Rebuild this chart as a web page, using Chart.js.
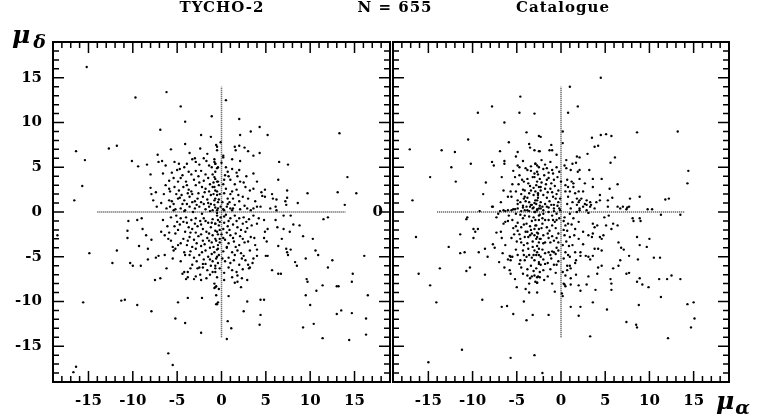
<!DOCTYPE html>
<html>
<head>
<meta charset="utf-8">
<script src="https://cdn.jsdelivr.net/npm/chart.js@4.4.1/dist/chart.umd.min.js"></script>
<style>
  body { margin: 0; background: #fff; width: 758px; height: 418px; position: relative; overflow: hidden; font-family: "DejaVu Serif", serif; }
  canvas { position: absolute; top: 0; }
  #left { left: 0; }
  #right { left: 353px; }
  .t { position: absolute; top: 0; font-weight: bold; font-size: 15px; line-height: 15px; letter-spacing: 1px; transform: translateX(-50%); white-space: nowrap; }
  .ax { position: absolute; font-style: italic; font-weight: bold; font-size: 25px; line-height: 25px; white-space: nowrap; }
  .ax span { font-size: 19px; position: relative; top: 5px; margin-left: 3px; }
</style>
</head>
<body>
<canvas id="left" width="394" height="418"></canvas>
<canvas id="right" width="380" height="418"></canvas>
<div class="t" style="left:222px">TYCHO-2</div>
<div class="t" style="left:395px">N = 655</div>
<div class="t" style="left:563px">Catalogue</div>
<div class="ax" style="left:12px;top:22px">μ<span>δ</span></div>
<div class="ax" style="left:716px;top:388px">μ<span style="margin-left:1px">α</span></div>
<script>
// proper motions (mas/yr): [mu_alpha, mu_delta]
const tychoPts = [
  [-15.2,16.2],[-9.7,12.8],[-6.2,13.4],[-4.6,11.8],[-4.1,10.1],[-1.1,10.7],[-6.9,9.2],[-2.3,8.6],[-1.2,8.4],[-4.1,7.6],[-0.6,7.5],
  [-16.4,6.8],[-12.7,7.1],[-11.8,7.4],[-15.4,5.8],[-15.7,2.9],[-16.6,1.3],[-10.1,5.7],[-9.4,5.1],[-8.4,5.3],[-7.2,6.4],[-7.1,5.6],
  [-6.7,5.7],[-6.3,5.2],[-5.7,7.0],[-8.0,4.2],[-8.0,2.7],[-7.4,2.2],[-7.9,2.0],[-7.7,1.3],[-7.3,0.6],
  [-4.8,5.4],[-4.7,4.8],[-4.2,5.0],[-3.7,4.5],[-3.3,5.9],[-3.0,6.0],[-2.9,5.6],[-2.0,6.0],[-1.7,5.7],[-1.4,5.2],[-1.1,5.0],[-0.8,5.9],[-0.7,5.4],[-0.5,4.9],
  [-5.9,3.5],[-5.4,3.8],[-4.9,3.4],[-4.6,3.8],[-4.0,3.4],[-3.4,4.2],[-2.9,4.6],[-2.3,4.6],[-1.8,4.2],[-1.5,3.8],[-1.0,4.2],[-0.7,3.7],[-0.4,3.4],
  [-5.9,2.6],[-5.8,2.3],[-5.3,2.8],[-4.8,2.4],[-4.3,2.8],[-3.7,2.5],[-3.4,2.3],[-2.9,3.0],[-2.5,3.3],[-2.2,2.8],[-1.8,2.6],[-1.4,2.3],[-1.0,2.8],[-0.7,2.4],
  [-5.9,1.3],[-5.6,1.2],[-5.4,0.9],[-4.9,1.5],[-4.7,1.6],[-4.2,1.3],[-3.9,0.9],[-3.6,1.7],[-3.3,2.0],[-2.7,1.5],[-2.3,1.1],[-2.1,1.7],[-1.6,1.4],[-1.2,0.9],[-0.8,1.3],[-0.5,1.9],
  [-6.2,0.4],[-5.8,0.6],[-5.2,0.3],[-4.6,0.4],[-4.1,0.2],[-3.6,0.6],[-3.0,0.4],[-2.5,0.6],[-1.8,0.3],[-1.4,0.6],[-1.0,0.2],[-0.7,0.5],
  [-5.6,4.4],[-5.0,4.7],[-4.4,4.1],[-3.9,3.0],[-3.1,3.6],[-2.6,4.0],[-2.0,3.5],[-1.3,3.1],[-0.9,3.3],[-5.1,2.0],[-4.5,1.9],[-3.8,2.1],
  [-3.0,1.2],[-2.6,2.1],[-1.9,2.2],[-1.2,1.9],[-0.9,2.0],[-4.4,0.9],[-3.3,1.1],[-2.8,0.8],[-2.0,0.9],[-1.5,1.0],[-0.3,1.4],[-0.4,0.4],
  [-6.5,2.0],[-6.8,1.0],[-6.3,3.0],[-6.6,4.3],[-5.3,5.6],[-3.6,6.6],[-2.4,7.1],[-1.6,6.5],[-3.9,5.4],[-2.5,5.3],
  [0.5,12.5],[2.0,10.4],[2.1,8.6],[3.3,9.0],[4.3,9.5],[5.2,8.6],[13.3,8.8],[-0.1,7.8],[-0.5,7.3],[1.5,7.3],[1.6,6.9],[2.0,7.4],[2.6,7.2],
  [3.0,6.8],[4.3,6.6],[3.6,6.3],[2.1,5.7],[0.2,6.3],[0.2,6.1],[0.0,5.5],[6.5,5.6],[7.5,5.3],[14.2,3.9],[1.2,4.8],[0.7,4.5],[0.8,4.0],
  [2.0,4.7],[3.6,4.3],[2.5,3.3],[2.1,3.4],[4.0,3.4],[6.4,3.6],[1.5,3.1],[1.7,2.5],[3.2,2.4],[3.6,2.6],[4.5,2.2],[4.9,2.5],[7.4,2.4],
  [7.4,1.6],[9.7,2.1],[13.1,2.2],[15.2,2.1],[4.6,1.8],[4.9,1.7],[5.7,2.0],[5.8,1.5],[6.2,1.4],[7.2,1.2],[7.3,0.8],[8.6,1.0],[13.9,0.8],
  [2.4,1.7],[2.6,0.7],[2.9,0.4],[1.3,1.5],[1.5,0.8],[0.7,0.9],[1.0,0.4],[3.6,0.4],[4.0,0.6],[5.5,0.4],[6.1,0.6],[6.2,0.2],
  [-0.5,6.9],[-0.8,5.6],[-0.7,5.4],[-0.4,5.0],[-0.7,4.5],[-0.8,3.9],[-0.5,3.4],[-0.8,2.8],[-0.3,3.0],[-0.5,2.3],[-0.2,2.0],[-0.7,1.5],
  [-0.4,1.1],[-0.8,0.8],[-0.1,0.6],[-0.5,0.2],
  [0.2,3.1],[0.5,2.6],[0.3,2.1],[0.7,1.5],[0.1,1.1],[1.0,2.0],[1.2,2.3],[0.6,0.6],[0.3,0.2],[1.3,0.4],
  [0.4,4.1],[1.0,3.6],[0.3,3.6],[1.8,4.0],[2.8,4.0],[2.7,2.8],[1.9,1.9],[2.0,1.2],[3.0,1.5],[3.8,1.2],[0.5,5.0],[1.2,5.9],[1.7,4.4],[0.9,1.1],
  [-10.5,-1.0],[-10.6,-2.1],[-9.5,-0.9],[-9.0,-0.7],[-10.6,-2.9],[-18.5,-2.6],[-8.9,-1.9],[-8.5,-2.6],[-7.9,-3.1],[-6.6,-0.9],[-6.8,-2.2],
  [-6.4,-2.6],[-6.0,-3.0],[-5.2,-2.4],[-11.8,-4.3],[-14.9,-4.6],[-9.3,-3.8],[-8.3,-4.1],[-12.3,-5.7],[-10.3,-5.7],[-10.0,-6.0],[-9.1,-6.0],
  [-8.3,-5.3],[-7.4,-5.1],[-7.1,-4.9],[-6.4,-4.8],[-6.2,-6.3],[-5.5,-5.2],[-5.5,-3.9],[-5.4,-4.3],[-4.9,-3.7],[-4.6,-3.5],[-4.2,-4.5],
  [-4.1,-4.8],[-7.5,-7.6],[-6.9,-7.4],[-4.4,-6.9],[-4.2,-6.7],[-3.8,-6.7],[-4.0,-7.5],[-3.8,-7.3],[-3.1,-7.5],[-2.9,-7.2],[-2.3,-7.6],
  [-1.7,-7.4],[-0.8,-8.5],[-0.6,-8.3],[-2.5,-6.2],[-2.1,-5.8],[-1.2,-6.0],[-15.6,-10.1],[-11.3,-9.9],[-10.9,-9.8],[-9.5,-10.4],[-7.9,-11.1],
  [-4.9,-10.1],[-3.8,-9.6],[-2.2,-9.6],[-0.6,-10.3],[-5.2,-11.9],[-4.1,-12.4],[-2.3,-13.5],[-6.0,-15.8],[-5.5,-17.1],[-16.4,-17.3],[-16.7,-17.9],
  [-5.4,0.2],[-4.2,0.1],[-3.2,0.0],[-2.2,-0.2],[-1.3,0.1],[-0.5,-0.1],
  [-5.7,-0.6],[-5.1,-0.4],[-4.6,-0.7],[-4.0,-0.6],[-3.4,-0.9],[-2.9,-0.7],[-2.4,-1.0],[-2.0,-0.7],[-1.5,-1.2],[-1.0,-0.8],[-0.7,-1.3],[-0.4,-0.9],
  [-5.3,-1.6],[-4.7,-1.4],[-3.7,-1.7],[-3.3,-1.9],[-2.7,-1.6],[-2.1,-1.9],[-1.7,-2.2],[-1.2,-1.7],[-0.7,-2.1],[-0.4,-2.5],
  [-3.6,-2.8],[-3.1,-3.1],[-2.6,-2.7],[-2.1,-3.2],[-1.6,-2.9],[-1.1,-3.4],[-0.7,-3.0],[-0.4,-3.7],
  [-3.9,-3.7],[-3.3,-3.9],[-2.9,-4.1],[-2.3,-3.8],[-1.8,-4.3],[-1.3,-4.0],[-0.8,-4.5],[-0.5,-4.2],
  [-3.6,-4.8],[-3.1,-5.1],[-2.5,-4.8],[-2.0,-5.3],[-1.5,-5.0],[-1.0,-5.5],[-0.6,-5.2],
  [-3.3,-5.9],[-2.7,-6.3],[-2.1,-6.2],[-1.6,-6.5],[-1.0,-6.7],[-0.7,-6.3],
  [-5.0,-1.1],[-4.3,-1.1],[-3.9,-1.2],[-3.0,-1.3],[-2.3,-1.4],[-1.8,-1.0],[-1.1,-1.2],[-0.2,-1.1],[-4.9,-2.0],[-4.1,-2.2],[-3.5,-2.3],
  [-2.9,-2.3],[-2.3,-2.5],[-1.4,-2.4],[-1.0,-2.6],[-0.2,-2.0],[-4.3,-3.0],[-3.8,-3.2],[-2.8,-3.5],[-1.9,-3.6],[-1.4,-3.2],[-0.9,-3.9],
  [-0.2,-3.0],[-3.5,-4.4],[-2.2,-4.5],[-1.1,-4.7],[-0.3,-4.8],[-2.8,-5.5],[-1.8,-5.8],[-1.3,-5.3],[-0.4,-5.7],[-2.4,-7.0],[-1.3,-7.0],
  [-3.5,-6.3],[-4.6,-5.5],[-5.2,-4.1],[-5.7,-3.2],[-6.1,-1.6],[-5.9,-2.3],
  [11.5,-0.8],[12.0,-0.6],[6.1,-0.9],[7.0,-0.4],[7.8,-0.4],[8.1,-1.4],[8.8,-1.5],[6.3,-1.7],[7.0,-1.9],[7.7,-2.2],[9.2,-2.7],[10.3,-3.0],
  [4.9,-2.2],[5.2,-1.9],[4.8,-2.9],[5.1,-3.3],[3.7,-2.9],[6.8,-3.0],[6.4,-3.8],[7.3,-4.1],[7.4,-4.5],[7.8,-4.2],[7.5,-4.8],[3.8,-3.7],
  [4.0,-4.2],[5.0,-4.9],[5.2,-4.9],[9.5,-5.2],[10.6,-4.3],[10.9,-4.8],[12.5,-5.4],[16.1,-4.9],[8.3,-5.6],[8.5,-6.0],[12.0,-6.2],[14.8,-6.9],
  [14.7,-7.8],[5.7,-6.5],[6.4,-6.9],[6.7,-6.9],[9.6,-7.5],[9.7,-7.8],[11.4,-8.2],[10.7,-8.8],[13.0,-8.3],[13.2,-8.3],[16.5,-9.3],[9.5,-9.3],
  [10.0,-10.4],[13.0,-11.4],[13.5,-11.0],[14.7,-11.3],[16.3,-11.9],[16.3,-13.7],[14.4,-14.3],[11.4,-14.1],[9.2,-12.9],[10.4,-12.5],
  [4.4,-9.8],[4.8,-9.8],[2.9,-10.0],[2.5,-11.1],[4.4,-11.5],[4.3,-12.6],[0.7,-12.2],[1.1,-13.0],[0.6,-14.2],[0.8,-9.4],[2.9,-7.6],[2.3,-7.4],
  [1.8,-7.8],[1.5,-7.9],[2.2,-8.4],[1.7,-6.7],[1.2,-6.5],[1.8,-7.1],[0.3,-7.6],[-0.7,-8.4],[-0.5,-10.3],[3.0,-5.9],[3.5,-5.7],[3.2,-6.2],
  [3.1,-6.3],[3.6,-5.2],[4.0,-4.9],[2.3,-5.2],[2.5,-4.9],[2.7,-5.4],
  [-0.7,-6.7],[-0.5,-7.3],[-0.8,-8.0],[-0.3,-8.6],[-0.6,-9.3],[-0.4,-10.1],
  [0.2,0.3],[1.2,0.2],[2.1,0.3],[3.3,0.2],[4.4,0.6],
  [-0.5,-0.4],[-0.1,-0.6],[0.5,-0.3],[1.0,-0.7],[1.5,-0.4],[2.0,-0.7],[2.5,-0.6],[3.1,-0.8],[3.6,-0.4],[4.2,-0.7],[4.8,-0.9],
  [-0.7,-1.3],[-0.3,-1.5],[0.3,-1.2],[0.7,-1.6],[1.3,-1.4],[1.8,-1.7],[2.4,-1.3],[2.9,-1.8],[3.4,-1.5],[4.0,-1.3],
  [-0.5,-2.2],[0.0,-2.5],[0.6,-2.3],[1.0,-2.6],[1.6,-2.4],[2.1,-2.7],[2.7,-2.2],[3.3,-2.8],
  [-0.6,-3.2],[-0.2,-3.4],[0.4,-3.1],[0.8,-3.5],[1.4,-3.3],[2.0,-3.7],[2.6,-3.4],
  [-0.4,-4.1],[0.2,-4.4],[0.6,-4.0],[1.2,-4.5],[1.8,-4.3],
  [-0.5,-5.0],[0.1,-5.2],[0.8,-5.1],[1.4,-5.4],
  [-0.7,-6.0],[-0.2,-6.3],[0.8,-6.2],
  [0.3,-0.5],[0.8,-1.0],[1.7,-1.0],[2.2,-2.0],[2.8,-1.1],[0.2,-1.9],[0.9,-2.0],[1.3,-2.9],[0.2,-2.9],[0.6,-3.9],[1.6,-3.9],
  [2.4,-3.0],[3.0,-3.3],[3.2,-4.3],[2.2,-4.6],[1.5,-4.8],[0.4,-5.5],[1.0,-5.7],[2.0,-5.9],[0.3,-6.8],[1.2,-7.3],[2.4,-6.4]
];

const catPts = [
  [-4.6,12.9],[-7.8,11.8],[-9.4,11.1],[-4.7,11.1],[-3.0,11.0],[-6.4,10.0],[-3.9,8.9],[-10.5,8.1],[-5.9,7.8],[-2.5,8.5],[-3.6,7.6],[-3.5,7.2],
  [-2.5,6.8],[-17.1,7.0],[-13.5,6.9],[-12.0,6.7],[-6.9,6.8],[-4.9,6.7],[-5.1,6.2],[-10.2,5.4],[-12.4,5.0],[-7.8,5.6],[-7.6,5.2],[-6.4,5.7],
  [-6.4,5.4],[-4.9,5.2],[-4.7,5.0],[-4.0,4.9],[-3.8,4.7],[-2.9,5.4],[-2.7,5.2],[-14.8,3.9],[-11.9,3.4],[-8.5,3.3],[-6.7,3.9],[-5.2,3.9],
  [-4.7,4.1],[-4.2,3.4],[-3.8,3.7],[-3.4,4.6],[-3.0,4.3],[-3.2,3.9],[-4.8,3.1],[-4.3,2.5],[-4.1,2.4],[-3.5,2.9],[-3.1,2.7],[-2.9,2.3],
  [-2.7,3.4],[-2.5,2.8],[-6.5,2.4],[-5.7,2.3],[-5.6,1.7],[-6.0,1.7],[-8.8,2.0],[-16.8,1.3],[-6.8,1.1],[-7.8,0.6],[-9.2,0.1],
  [-5.1,2.3],[-4.5,2.0],[-4.1,1.7],[-3.6,2.1],[-3.1,1.9],[-2.6,1.9],[-4.9,0.9],[-4.3,0.7],[-3.9,0.6],[-3.3,0.8],[-2.8,0.9],[-2.4,0.7],
  [-4.9,1.3],[-4.6,1.1],[-4.2,1.5],[-4.0,1.2],[-3.8,1.6],[-3.6,1.1],[-3.4,0.8],[-3.0,1.0],[-2.7,1.3],[-5.2,0.3],[-4.5,0.1],[-3.8,0.2],[-3.2,0.4],
  [-5.5,3.1],[-4.4,3.6],[-3.7,3.2],[-2.2,3.3],[-1.6,3.6],[-1.1,3.2],[-3.4,2.4],[-2.3,2.4],[-1.8,2.6],[-1.0,2.2],[-0.6,1.5],[-2.6,1.6],
  [-1.6,1.6],[-1.1,0.8],[-0.4,0.7],[-2.1,0.6],[-3.4,5.1],[-2.2,5.8],[-1.8,5.3],[-1.2,5.6],[-4.3,5.7],[-5.4,4.6],[-0.9,4.3],[-1.4,4.4],[-2.6,4.2],
  [4.5,15.0],[1.0,14.0],[1.9,11.8],[0.8,11.1],[0.2,9.0],[0.2,7.7],[8.6,8.9],[13.2,9.0],[3.5,8.3],[4.5,8.6],[5.1,8.7],[5.7,8.5],
  [3.8,7.3],[4.2,7.4],[-2.3,8.4],[-1.1,7.5],[-1.3,6.9],[-1.0,6.9],[-3.0,6.9],[-2.4,6.8],[-0.5,6.4],[3.0,6.5],[1.8,6.2],[2.1,6.1],
  [6.1,6.1],[5.6,5.5],[0.6,5.8],[1.3,5.4],[1.7,5.5],[0.4,5.2],[0.6,4.9],[1.1,4.7],[2.1,4.7],[3.2,4.7],[14.4,4.6],[14.3,3.2],
  [0.7,3.6],[1.2,3.4],[1.4,3.2],[0.8,2.8],[0.5,3.0],[2.1,3.7],[3.6,3.7],[4.6,3.7],[3.6,2.8],[6.4,3.1],[5.5,2.6],[1.0,2.3],
  [1.6,2.1],[2.0,2.3],[4.4,1.9],[4.4,1.3],[5.8,1.6],[5.3,1.3],[7.8,1.5],[8.9,1.7],[11.8,1.4],[12.2,1.5],[5.3,0.6],[6.4,0.6],
  [6.7,0.4],[7.5,0.5],[9.8,0.3],[10.3,0.3],
  [1.8,1.5],[2.1,1.3],[2.0,1.1],[2.9,1.3],[3.3,1.1],[3.4,0.8],[2.9,0.8],
  [-2.9,5.4],[-2.5,5.0],[-2.0,4.8],[-2.7,4.5],[-1.6,4.9],[-1.0,4.7],[-0.5,5.0],[-0.2,4.5],[-3.0,3.9],[-2.4,3.7],[-1.9,4.1],[-1.4,3.8],
  [-0.8,3.6],[-0.4,3.9],[0.0,3.4],[-2.8,3.0],[-2.3,2.8],[-1.7,3.1],[-1.2,2.6],[-0.7,2.9],[-0.3,2.4],[-2.6,2.1],[-2.0,1.9],[-1.5,2.2],
  [-0.9,1.7],[-0.5,2.0],[-0.1,1.5],[-2.9,1.3],[-2.3,1.1],[-1.8,0.9],[-1.3,1.2],[-0.8,0.8],[-0.3,1.1],[-2.5,0.4],[-2.0,0.2],[-1.4,0.5],
  [-0.8,0.1],[-0.2,0.4],
  [0.5,2.3],[0.8,1.7],[1.3,1.1],[0.7,0.9],[1.8,0.8],[2.3,1.5],[2.7,0.9],[1.1,0.4],[2.1,0.2],[3.3,0.6],[3.8,0.4],[4.0,1.1],
  [1.4,2.8],[2.5,2.3],[2.7,3.2],[1.9,4.5],
  [-16.4,-2.8],[-16.1,-6.9],[-14.8,-8.2],[-14.1,-10.1],[-13.7,-6.3],[-12.7,-3.9],[-11.4,-2.5],[-11.4,-4.6],[-10.9,-4.5],[-10.7,-6.6],
  [-10.3,-6.2],[-9.9,-2.9],[-9.9,-1.9],[-9.7,-2.2],[-9.4,-1.9],[-10.6,-0.6],[-10.7,-0.8],[-9.3,-4.5],[-8.6,-4.1],[-8.3,-5.0],[-8.6,-7.0],
  [-8.9,-9.8],[-7.3,-2.3],[-7.7,-3.6],[-7.5,-4.0],[-6.7,-2.9],[-7.3,-0.6],[-7.1,-0.2],[-6.5,-1.3],[-6.3,-1.1],[-6.0,-1.0],[-5.1,-1.6],
  [-4.9,-2.1],[-4.5,-1.7],[-4.7,-2.5],[-5.3,-2.5],[-4.6,-3.0],[-4.5,-3.4],[-4.2,-3.7],[-4.3,-4.3],[-4.2,-4.8],[-6.6,-4.6],[-5.8,-4.9],
  [-5.7,-5.0],[-5.5,-5.0],[-6.0,-5.3],[-5.7,-5.4],[-4.7,-5.8],[-4.6,-5.4],[-5.8,-6.5],[-5.7,-6.9],[-5.2,-7.5],[-3.6,-8.0],[-2.7,-7.9],
  [-3.6,-9.0],[-2.7,-9.0],[-4.2,-10.0],[-6.7,-10.6],[-6.1,-10.5],[-5.4,-11.4],[-3.2,-11.5],[-3.9,-12.1],[-11.2,-15.4],[-15.0,-16.8],
  [-5.7,-16.3],[-3.0,-16.0],[-7.7,0.6],
  [-4.3,-6.9],[-3.8,-7.1],[-3.5,-7.4],[-3.3,-7.2],[-3.0,-7.1],[-2.7,-7.3],
  [-3.8,-2.2],[-3.7,-2.8],[-3.4,-2.0],[-3.0,-2.6],[-2.8,-3.0],[-2.7,-2.3],[-2.5,-3.4],[-3.2,-3.9],[-2.7,-4.5],[-2.5,-4.8],[-3.1,-4.8],
  [-6.9,0.1],[-6.5,0.2],[-6.3,0.1],[-6.0,0.2],[-5.4,0.3],[-4.9,0.4],[-4.3,0.5],[-4.1,0.2],[-3.5,0.6],[-3.1,0.5],[-3.0,0.0],[-2.7,0.2],
  [-5.6,0.2],[-5.1,-0.2],[-4.1,-0.4],[-3.6,0.1],[-3.1,-0.6],[-2.7,0.3],[-2.4,-0.3],[-5.5,-0.9],[-4.9,-1.2],[-4.3,-0.7],[-3.9,-1.3],
  [-3.3,-1.0],[-2.8,-1.5],[-2.5,-0.9],[-4.0,-2.2],[-3.5,-2.6],[-3.0,-1.9],[-2.6,-2.4],[-3.8,-3.5],[-3.2,-3.3],[-2.7,-3.8],[-2.4,-3.0],
  [-3.6,-4.8],[-3.0,-5.4],[-2.5,-5.8],[-4.1,-5.4],[-3.4,-6.0],[-2.8,-6.3],[-2.4,-6.7],
  [-5.9,-0.4],[-4.6,-0.3],[-3.6,-0.5],[-2.9,-0.9],[-2.1,-0.7],[-1.4,-0.9],[-0.9,-0.9],[-0.2,-0.7],[-5.4,-1.8],[-4.2,-1.4],[-3.5,-1.6],
  [-2.2,-1.8],[-1.3,-2.1],[-0.6,-1.8],[-0.3,-2.4],[-5.6,-2.9],[-5.0,-3.3],[-4.1,-2.8],[-3.3,-2.4],[-2.0,-3.5],[-1.5,-2.4],[-0.5,-2.9],
  [-0.3,-3.4],[-5.1,-4.2],[-3.7,-4.1],[-3.0,-4.3],[-2.1,-4.2],[-1.8,-4.6],[-0.6,-4.7],[-0.3,-4.3],[-4.9,-4.8],[-3.9,-5.0],[-3.3,-5.1],
  [-2.0,-5.3],[-1.1,-5.2],[-0.3,-5.5],[-4.5,-6.2],[-3.8,-6.4],[-3.1,-6.6],[-2.0,-6.5],[-1.2,-6.4],[-0.6,-6.8],[-1.9,-7.6],[-1.0,-8.0],
  [-6.3,-3.7],[-6.8,-2.2],[-7.0,-5.6],[-6.4,-6.2],[-5.0,-8.4],[-4.0,-8.6],
  [-2.1,-18.0],[12.1,-14.1],[3.3,-13.9],[7.4,-12.3],[8.5,-12.6],[8.6,-12.9],[14.7,-12.9],[15.1,-11.9],[14.3,-10.3],[15.0,-10.1],
  [-1.4,-11.5],[1.1,-10.6],[2.2,-10.6],[2.0,-11.6],[3.6,-10.1],[5.2,-10.9],[8.8,-10.4],[11.3,-9.5],[-0.7,-8.9],[0.1,-9.1],[0.2,-9.4],
  [2.2,-8.8],[3.9,-8.7],[5.7,-8.7],[0.3,-8.0],[0.4,-8.1],[0.5,-8.3],[1.1,-8.1],[2.0,-8.2],[2.9,-8.1],[5.6,-7.5],[5.7,-8.0],[8.6,-7.8],
  [8.9,-7.4],[9.2,-8.1],[9.9,-8.4],[11.1,-7.5],[12.0,-7.5],[12.5,-7.1],[13.5,-7.5],[-2.6,-7.2],[-2.4,-7.3],[-1.5,-7.2],[1.1,-7.4],
  [1.7,-7.0],[3.1,-7.2],[4.1,-6.9],[7.4,-6.9],[7.7,-6.8],[-2.7,-7.9],[5.9,-6.3],[6.5,-6.0],[10.5,-5.1],[11.2,-5.1],[8.7,-5.3],[7.7,-4.9],
  [6.7,-5.4],[6.8,-4.0],[7.1,-4.2],[6.5,-3.4],[9.7,-3.9],[8.9,-3.7],[8.6,-2.8],[10.0,-3.0],[8.1,-0.7],[8.9,-0.7],[9.0,-1.0],[8.2,-1.0],
  [11.3,-0.3],[13.5,-0.3],[4.2,-4.1],[4.6,-4.3],[3.8,-4.1],[3.6,-4.9],[3.1,-5.0],[3.3,-5.3],[4.6,-6.0],[4.2,-6.2],[2.2,-4.5],[2.2,-4.9],
  [1.7,-5.4],[1.6,-5.7],[1.0,-6.0],[1.1,-6.3],[0.7,-6.5],[3.1,-2.6],[3.5,-2.8],[3.6,-2.4],[4.4,-2.8],[4.6,-3.0],[4.8,-2.6],[3.8,-1.7],
  [4.1,-1.5],[3.6,-1.3],[5.1,-1.5],[5.7,-1.9],[5.9,-1.3],[6.4,-1.5],[4.9,-0.6],[5.4,-0.4],[7.0,0.6],[7.4,0.3],[7.7,0.6],
  [-2.9,-7.8],[-2.5,-5.6],[-2.3,-5.9],[-1.8,-5.8],[-1.5,-5.7],[-0.8,-5.9],[-0.5,-5.9],[-1.4,-4.5],[-1.0,-4.4],[-0.8,-4.5],[-1.2,-4.8],
  [-0.5,-4.0],[-2.5,-4.1],[-2.3,-5.0],[-2.8,-4.8],[-2.7,-2.8],[-2.3,-3.0],[-2.0,-2.6],[-1.4,-2.9],[-1.0,-2.7],[-0.8,-3.2],[-1.2,-3.4],
  [-1.8,-3.4],[-2.9,-1.5],[-2.5,-1.9],[-2.1,-1.3],[-1.6,-1.7],[-1.0,-1.5],[-0.7,-1.1],[-0.5,-0.9],[-1.8,-0.9],[-2.9,0.0],[-2.5,-0.4],
  [-2.0,-0.2],[-1.4,0.0],[-1.0,-0.4],[-0.5,-0.2],[-0.1,0.2],[-0.8,0.4],[-2.3,0.4],[-1.6,0.6],
  [0.4,-0.6],[0.5,-1.5],[0.7,-2.1],[0.4,-2.6],[0.2,-3.7],[0.5,-4.5],[0.3,-5.2],[0.7,-6.0],[0.2,-6.7],[0.5,-7.1],[2.1,0.4],[2.5,0.6],
  [2.9,0.2],[3.1,-0.1],[1.8,0.0],[1.0,-0.2],[1.4,-0.7],[2.0,-1.1],[0.8,-1.3],[1.6,-1.9],[1.0,-2.8],[2.0,-3.0],[2.5,-2.2],[1.3,-3.7],[0.8,-4.8],
  [0.3,-1.0],[1.2,-1.4],[0.6,-3.3],[1.5,-2.6],[0.9,-3.8],[1.6,-4.5],[1.0,-5.0],[2.5,-3.6],[2.8,-4.9],[0.3,-2.0]
];

const axisMin = -19, axisMax = 19;
const tickVals = [-15, -10, -5, 0, 5, 10, 15];
const crossArm = [-14, 14];   // extent of the reference cross through (0,0)

const tickFont = { family: '"DejaVu Serif", serif', weight: 'bold', size: 15 };

// frame + inward tick marks on all four sides
const frameTicks = {
  id: 'frameTicks',
  afterDraw(chart) {
    const { ctx, chartArea: a, scales: { x, y } } = chart;
    ctx.save();
    ctx.strokeStyle = '#000';
    ctx.lineWidth = 1.5;
    ctx.beginPath();
    for (let v = axisMin + 1; v < axisMax; v++) {
      const len = v % 5 === 0 ? 11 : 6;
      const px = x.getPixelForValue(v), py = y.getPixelForValue(v);
      ctx.moveTo(px, a.bottom); ctx.lineTo(px, a.bottom - len);
      ctx.moveTo(px, a.top); ctx.lineTo(px, a.top + len);
      ctx.moveTo(a.left, py); ctx.lineTo(a.left + len, py);
      ctx.moveTo(a.right, py); ctx.lineTo(a.right - len, py);
    }
    ctx.stroke();
    ctx.lineWidth = 2;
    ctx.strokeRect(a.left, a.top, a.right - a.left, a.bottom - a.top);
    ctx.restore();
  }
};

function makePanel(id, pts, yAxisWidth, yLabel, yPad) {
  const crossStyle = { showLine: true, pointRadius: 0, borderColor: 'rgba(0,0,0,0.75)', borderWidth: 1.5, borderDash: [1, 1], order: 2 };
  new Chart(document.getElementById(id), {
    type: 'scatter',
    data: {
      datasets: [
        { data: crossArm.map(v => ({ x: v, y: 0 })), ...crossStyle },
        { data: crossArm.map(v => ({ x: 0, y: v })), ...crossStyle },
        {
          data: pts.map(p => ({ x: p[0], y: p[1] })),
          pointRadius: 1.2, pointBackgroundColor: '#000', pointBorderWidth: 0, order: 1
        }
      ]
    },
    options: {
      responsive: false,
      animation: false,
      devicePixelRatio: 1,
      layout: { padding: { top: 42, right: 1, left: 0, bottom: 0 } },
      plugins: { legend: { display: false }, tooltip: { enabled: false } },
      scales: {
        x: {
          type: 'linear', min: axisMin, max: axisMax,
          grid: { display: false, drawTicks: false }, border: { display: false },
          afterBuildTicks: s => { s.ticks = tickVals.map(v => ({ value: v })); },
          ticks: { autoSkip: false, maxRotation: 0, padding: 10, color: '#000', font: tickFont },
          afterFit: s => { s.height = 36; }
        },
        y: {
          type: 'linear', min: axisMin, max: axisMax,
          grid: { display: false, drawTicks: false }, border: { display: false },
          afterBuildTicks: s => { s.ticks = tickVals.map(v => ({ value: v })); },
          ticks: { autoSkip: false, padding: yPad, color: '#000', font: tickFont, callback: yLabel },
          afterFit: s => { s.width = yAxisWidth; }
        }
      }
    },
    plugins: [frameTicks]
  });
}

makePanel('left', tychoPts, 53, v => String(v), 11);
makePanel('right', catPts, 40, v => (v === 0 ? '0' : ''), 10);
</script>
</body>
</html>
